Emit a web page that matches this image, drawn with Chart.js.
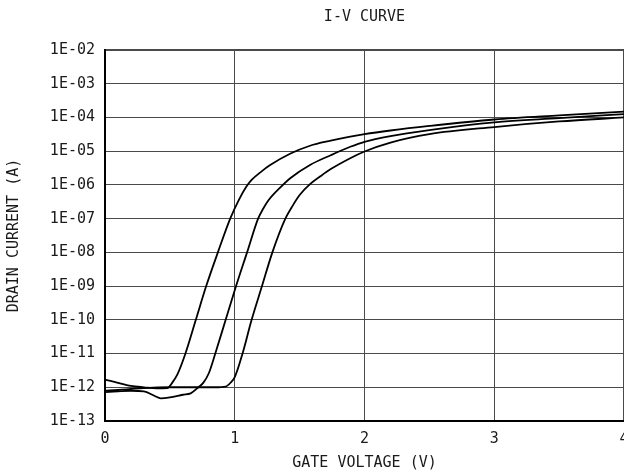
<!DOCTYPE html>
<html>
<head>
<meta charset="utf-8">
<title>I-V Curve</title>
<script src="https://cdn.jsdelivr.net/npm/chart.js@4"></script>
<style>
    html, body { margin: 0; padding: 0; background: #fff; }
    canvas { display: block; }
</style>
</head>
<body>
<canvas id="ivChart" width="624" height="474"></canvas>
<script>
// Gate voltage (V) / drain current (A), three sweeps (left to right)
const voltsA = [0, 0.1, 0.2, 0.3, 0.4, 0.48, 0.52, 0.56, 0.62, 0.70, 0.78, 0.87, 0.965, 1.03, 1.09, 1.13, 1.2, 1.27, 1.43, 1.58, 1.74, 1.89, 2.0, 2.2, 2.5, 3.0, 3.5, 4.0];
const currentA = [1.7e-12, 1.35e-12, 1.1e-12, 1.0e-12, 9.3e-13, 9.5e-13, 1.4e-12, 2.5e-12, 1e-11, 1e-10, 1e-9, 1e-8, 1e-7, 3.5e-7, 8.9e-7, 1.4e-6, 2.4e-6, 3.8e-6, 8.5e-6, 1.45e-5, 2.05e-5, 2.7e-5, 3.2e-5, 4.1e-5, 5.6e-5, 8.7e-5, 1.15e-4, 1.48e-4];

const voltsB = [0, 0.1, 0.2, 0.3, 0.38, 0.43, 0.5, 0.6, 0.66, 0.72, 0.76, 0.8, 0.85, 0.93, 1.01, 1.095, 1.18, 1.22, 1.26, 1.35, 1.43, 1.58, 1.74, 1.89, 2.0, 2.2, 2.5, 3.0, 3.5, 4.0];
const currentB = [7.2e-13, 7.6e-13, 7.9e-13, 7.6e-13, 5.6e-13, 4.7e-13, 5.0e-13, 6.0e-13, 6.6e-13, 1.0e-12, 1.4e-12, 2.6e-12, 1e-11, 1e-10, 1e-9, 1e-8, 1e-7, 2.0e-7, 3.5e-7, 8.3e-7, 1.6e-6, 3.9e-6, 7.6e-6, 1.35e-5, 1.9e-5, 2.8e-5, 4.2e-5, 7.1e-5, 9.5e-5, 1.26e-4];

const voltsC = [0, 0.1, 0.2, 0.3, 0.5, 0.7, 0.85, 0.93, 0.97, 1.0, 1.06, 1.13, 1.21, 1.29, 1.39, 1.44, 1.5, 1.58, 1.66, 1.74, 1.89, 2.0, 2.2, 2.5, 3.0, 3.5, 4.0];
const currentC = [7.9e-13, 8.3e-13, 8.9e-13, 9.5e-13, 1.0e-12, 1.0e-12, 1.0e-12, 1.05e-12, 1.4e-12, 2.0e-12, 1e-11, 1e-10, 1e-9, 1e-8, 1e-7, 2.2e-7, 5.0e-7, 1.05e-6, 1.8e-6, 2.95e-6, 6.2e-6, 9.8e-6, 1.8e-5, 3.2e-5, 5.2e-5, 7.6e-5, 1.0e-4];

// Axis ticks
const xTickValues = [0, 1, 2, 3, 4];
const xTickLabels = ['0', '1', '2', '3', '4'];
const yTickValues = [1e-13, 1e-12, 1e-11, 1e-10, 1e-9, 1e-8, 1e-7, 1e-6, 1e-5, 1e-4, 1e-3, 1e-2];
const yTickLabels = ['1E-13', '1E-12', '1E-11', '1E-10', '1E-09', '1E-08', '1E-07', '1E-06', '1E-05', '1E-04', '1E-03', '1E-02'];

const FONT = '"DejaVu Sans Mono", "Liberation Mono", monospace';
const INK = '#1a1a1a';

function toPoints(volts, current) {
    return volts.map((v, i) => ({ x: v, y: current[i] }));
}

function curve(volts, current) {
    return {
        data: toPoints(volts, current),
        showLine: true,
        borderColor: '#000',
        borderWidth: 1.8,
        pointRadius: 0,
        cubicInterpolationMode: 'monotone',
        fill: false
    };
}

new Chart(document.getElementById('ivChart'), {
    type: 'scatter',
    data: {
        datasets: [
            curve(voltsA, currentA),
            curve(voltsB, currentB),
            curve(voltsC, currentC)
        ]
    },
    options: {
        responsive: false,
        animation: false,
        devicePixelRatio: 1,
        layout: { padding: 0 },
        plugins: {
            legend: { display: false },
            tooltip: { enabled: false },
            title: {
                display: true,
                fullSize: false,   // centre over the plot area, not the canvas
                text: 'I-V CURVE',
                color: INK,
                font: { family: FONT, size: 15, weight: 'normal' },
                padding: { top: 8, bottom: 24 }
            }
        },
        scales: {
            x: {
                type: 'linear',
                min: 0,
                max: 4,
                afterBuildTicks: scale => {
                    scale.ticks = xTickValues.map(v => ({ value: v }));
                },
                afterFit: scale => {
                    scale.height = 53;
                    scale.paddingLeft = 0;
                    scale.paddingRight = 0;
                },
                ticks: {
                    color: INK,
                    font: { family: FONT, size: 15 },
                    padding: 9,
                    maxRotation: 0,
                    callback: (value, index) => xTickLabels[index]
                },
                grid: {
                    drawTicks: false,
                    color: '#4a4a4a',
                    lineWidth: ctx => (ctx.tick && ctx.tick.value === 4 ? 2 : 1)
                },
                border: { color: '#000', width: 2 },
                title: {
                    display: true,
                    text: 'GATE VOLTAGE (V)',
                    color: INK,
                    font: { family: FONT, size: 15 },
                    padding: { top: 0, bottom: 2 }
                }
            },
            y: {
                type: 'logarithmic',
                min: 1e-13,
                max: 1e-2,
                afterBuildTicks: scale => {
                    scale.ticks = yTickValues.map(v => ({ value: v }));
                },
                afterFit: scale => {
                    scale.width = 105;
                },
                ticks: {
                    color: INK,
                    font: { family: FONT, size: 15 },
                    padding: 10,
                    autoSkip: false,
                    callback: (value, index) => yTickLabels[index]
                },
                grid: {
                    drawTicks: false,
                    color: '#4a4a4a',
                    lineWidth: ctx => (ctx.tick && ctx.tick.value === 1e-2 ? 2 : 1)
                },
                border: { color: '#000', width: 2 },
                title: {
                    display: true,
                    text: 'DRAIN CURRENT (A)',
                    color: INK,
                    font: { family: FONT, size: 15 },
                    padding: { top: 5, bottom: 0 }
                }
            }
        }
    }
});
</script>
</body>
</html>
